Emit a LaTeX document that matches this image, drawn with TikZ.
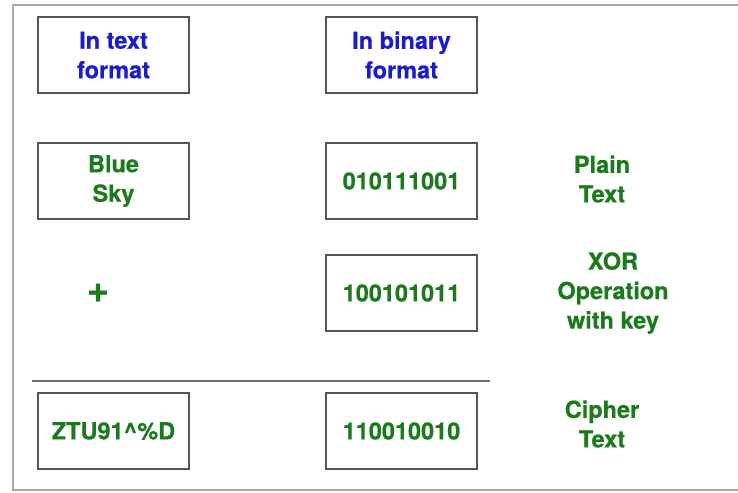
\documentclass[tikz,border=0pt]{standalone}
\usepackage{fontspec}
\setmainfont{TeX Gyre Heros}
\newfontfamily\heavysans[FakeBold=0.6]{TeX Gyre Heros Bold}
\begin{document}
\begin{tikzpicture}[x=1pt,y=-1pt,
  txtblue/.style={text=headblue,font=\fontsize{23.5}{29.5}\heavysans,align=center},
  txtgreen/.style={text=leafgreen,font=\fontsize{23.5}{29.5}\heavysans,align=center},
  cell/.style={draw=cellgray,line width=1.6pt,minimum width=151pt,minimum height=76pt,inner sep=0pt},
  ]
\definecolor{headblue}{HTML}{1C1CCF}
\definecolor{leafgreen}{HTML}{1B7A1B}
\definecolor{cellgray}{HTML}{555555}
\definecolor{framegray}{HTML}{A8A8A8}
\definecolor{rulegray}{HTML}{707070}
\useasboundingbox (0,0) rectangle (738,492);
\fill[white] (0,0) rectangle (738,492);
% outer frame, open to the right
\draw[framegray,line width=2.5pt] (745,5) -- (13,5) -- (13,490) -- (745,490);

% column headings
\node[cell,txtblue] (head1) at (113.5,55) {In text\\format};
\node[cell,txtblue] (head2) at (401.5,55) {In binary\\format};

% plain text row
\node[cell,txtgreen] (plain1) at (113.5,181) {Blue\\Sky};
\node[cell,txtgreen] (plain2) at (401.5,181) {010111001};
\node[txtgreen] (plainlbl) at (602,179) {Plain\\Text};

% key row
\node[txtgreen,font=\fontsize{38}{38}\heavysans] (plus) at (98,293) {+};
\node[cell,txtgreen] (key2) at (401.5,293) {100101011};
\node[txtgreen] (keylbl) at (613,293) {XOR\\Operation\\with key};

% result rule
\coordinate (ruleL) at (32,381);
\coordinate (ruleR) at (490,381);
\draw[rulegray,line width=2pt] (ruleL) -- (ruleR);

% cipher row
\node[cell,txtgreen] (ciph1) at (113.5,431) {ZTU91\^{}\%D};
\node[cell,txtgreen] (ciph2) at (401.5,431) {110010010};
\node[txtgreen] (ciphlbl) at (602,424) {Cipher\\Text};
\end{tikzpicture}
\end{document}
